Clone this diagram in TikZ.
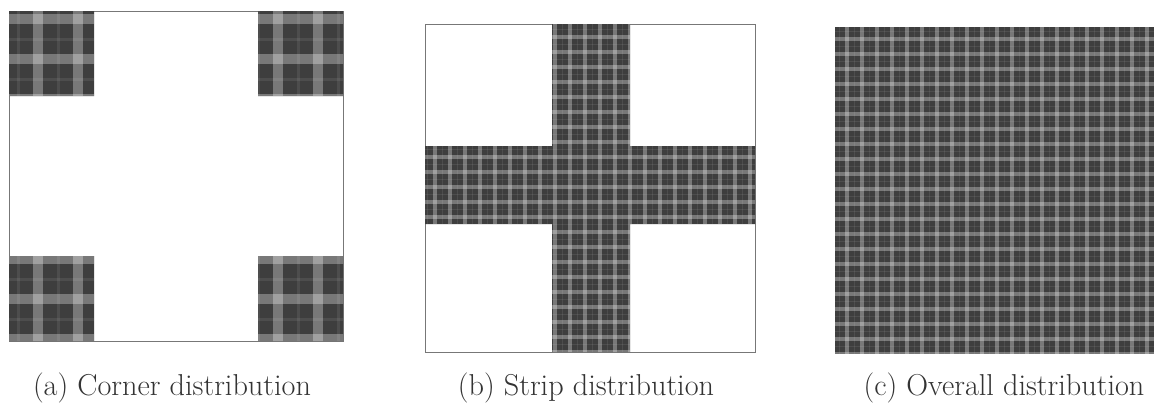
\documentclass[tikz,border=0pt]{standalone}
\usepackage{tikz}
\definecolor{clothbase}{HTML}{3E3E3E}
\definecolor{framegray}{HTML}{777777}
\definecolor{captext}{HTML}{333333}
% plaid cloth inside a clip path: {path}{origin x}{origin y}{pitch}
\newcommand{\plaidpatch}[4]{%
  \begin{scope}
    \clip #1;
    \fill[clothbase] (#2,#3) rectangle ++(420,420);
    \foreach \u in {0,#4,...,419} {
      \fill[stripe] ({#2+\u},#3) rectangle ++({0.24*#4},420);
      \fill[stripe] (#2,{#3+\u}) rectangle ++(420,{0.24*#4});
      \fill[thread] ({#2+\u+0.6*#4},#3) rectangle ++({0.08*#4},420);
      \fill[thread] (#2,{#3+\u+0.6*#4}) rectangle ++(420,{0.08*#4});
    }
  \end{scope}}

\begin{document}
\begin{tikzpicture}[x=0.25mm, y=-0.25mm,
  panel/.style={draw=framegray, line width=0.45pt, fill=white},
  stripe/.style={fill=white, opacity=0.3},
  thread/.style={fill=white, opacity=0.08},
  subcap/.style={anchor=base, font=\fontsize{21.5}{26}\selectfont, text=captext},
]
\useasboundingbox (0,0) rectangle (1154,402);

% (a) cloth only in the four corners
\draw[panel] (9,11) rectangle (343,341);
\plaidpatch{(9,11) rectangle (94,96) (258,11) rectangle (343,96)
  (9,256) rectangle (94,341) (258,256) rectangle (343,341)}{-7}{-26}{40}

% (b) cross shaped strip
\draw[panel] (425,24) rectangle (755,352);
\plaidpatch{(552,24) rectangle (630,352) (425,146) rectangle (755,224)}{418}{20}{15}

% (c) whole area
\plaidpatch{(835,27) rectangle (1154,353)}{830}{22}{15}

\node[subcap] (capa) at (172,395) {(a) Corner distribution};
\node[subcap] (capb) at (586,395) {(b) Strip distribution};
\node[subcap] (capc) at (1004,395) {(c) Overall distribution};
\end{tikzpicture}
\end{document}
